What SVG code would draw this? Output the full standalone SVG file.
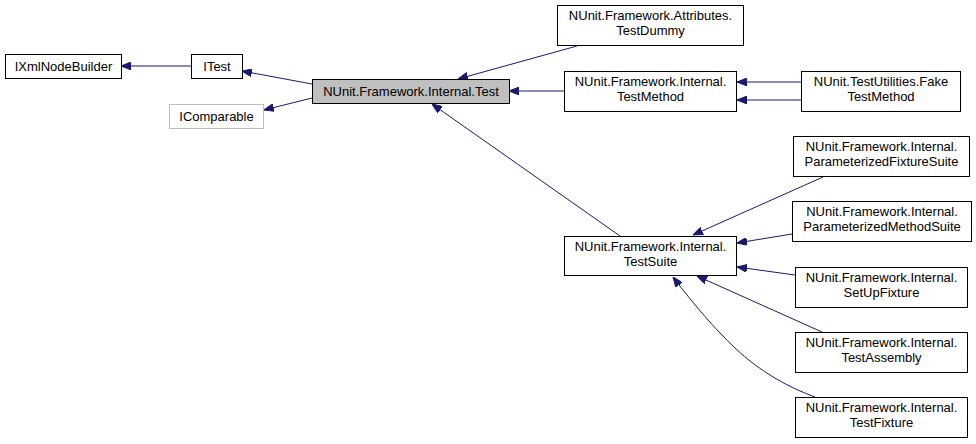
<svg xmlns="http://www.w3.org/2000/svg" width="976" height="444" viewBox="0 0 976 444">
<defs>
<marker id="ah" viewBox="0 0 10 8" refX="10" refY="4" markerWidth="10" markerHeight="8" markerUnits="userSpaceOnUse" orient="auto">
<path d="M0,0 L10,4 L0,8 Z" fill="#191970" stroke="#191970" stroke-width="1"/>
</marker>
</defs>
<style>
.n rect{fill:#fff;stroke:#000;stroke-width:1}
.n text{font-family:"Liberation Sans",Arial,sans-serif;font-size:13px;fill:#000;text-anchor:middle}
.g rect{fill:#fff;stroke:#bfbfbf}
.cur rect{fill:#bfbfbf}
.e path{fill:none;stroke:#191970;stroke-width:1;marker-end:url(#ah)}
</style>
<rect width="976" height="444" fill="#fff"/>
<g id="connectors" class="e">
<path d="M191,66 L121,66"/>
<path d="M312,84 L242,71"/>
<path d="M312,98 L264,110"/>
<path d="M577,46 L458,79"/>
<path d="M564,91 L509,91"/>
<path d="M801,82 L737,82"/>
<path d="M801,100 L737,100"/>
<path d="M620,236 L432,104"/>
<path d="M823,177 L693,235"/>
<path d="M792,234 L737,243"/>
<path d="M795,275 L737,267"/>
<path d="M822,332 L697,276"/>
<path d="M815,397 C790,388 760,372 735,348 C715,329 695,306 673,277"/>
</g>
<g id="IXmlNodeBuilder" class="n"><rect x="5.5" y="54.5" width="116" height="24"/><text x="63.5" y="71">IXmlNodeBuilder</text></g>
<g id="ITest" class="n"><rect x="191.5" y="54.5" width="51" height="24"/><text x="217" y="71">ITest</text></g>
<g id="IComparable" class="n g"><rect x="169.5" y="104.5" width="94" height="24"/><text x="216.5" y="121">IComparable</text></g>
<g id="Test" class="n cur"><rect x="312.5" y="79.5" width="197" height="24"/><text x="411" y="96">NUnit.Framework.Internal.Test</text></g>
<g id="TestDummy" class="n"><rect x="557.5" y="5.5" width="186" height="40"/><text x="650.5" y="20">NUnit.Framework.Attributes.</text><text x="650.5" y="35">TestDummy</text></g>
<g id="TestMethod" class="n"><rect x="564.5" y="71.5" width="172" height="40"/><text x="650.5" y="86">NUnit.Framework.Internal.</text><text x="650.5" y="101">TestMethod</text></g>
<g id="FakeTestMethod" class="n"><rect x="801.5" y="71.5" width="159" height="40"/><text x="881" y="86">NUnit.TestUtilities.Fake</text><text x="881" y="101">TestMethod</text></g>
<g id="TestSuite" class="n"><rect x="564.5" y="236.5" width="172" height="39"/><text x="650.5" y="251">NUnit.Framework.Internal.</text><text x="650.5" y="266">TestSuite</text></g>
<g id="ParameterizedFixtureSuite" class="n"><rect x="793.5" y="136.5" width="176" height="40"/><text x="881.5" y="151">NUnit.Framework.Internal.</text><text x="881.5" y="166">ParameterizedFixtureSuite</text></g>
<g id="ParameterizedMethodSuite" class="n"><rect x="792.5" y="201.5" width="179" height="40"/><text x="882" y="216">NUnit.Framework.Internal.</text><text x="882" y="231">ParameterizedMethodSuite</text></g>
<g id="SetUpFixture" class="n"><rect x="795.5" y="267.5" width="172" height="40"/><text x="881.5" y="282">NUnit.Framework.Internal.</text><text x="881.5" y="297">SetUpFixture</text></g>
<g id="TestAssembly" class="n"><rect x="795.5" y="332.5" width="172" height="40"/><text x="881.5" y="347">NUnit.Framework.Internal.</text><text x="881.5" y="362">TestAssembly</text></g>
<g id="TestFixture" class="n"><rect x="795.5" y="397.5" width="172" height="40"/><text x="881.5" y="412">NUnit.Framework.Internal.</text><text x="881.5" y="427">TestFixture</text></g>
</svg>
